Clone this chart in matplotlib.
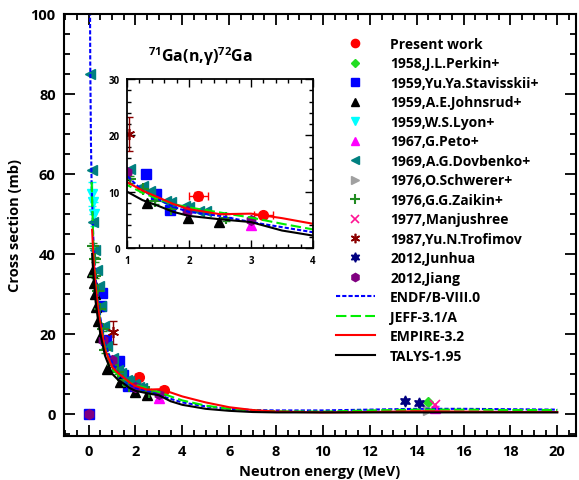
import matplotlib
matplotlib.use("Agg")
import matplotlib.pyplot as plt
import numpy as np
from matplotlib.ticker import MultipleLocator

plt.rcParams['font.family'] = ['Open Sans', 'DejaVu Sans']
plt.rcParams['font.weight'] = 'bold'
plt.rcParams['mathtext.fontset'] = 'custom'
plt.rcParams['mathtext.rm'] = 'Open Sans:bold'
plt.rcParams['mathtext.bf'] = 'Open Sans:bold'
plt.rcParams['mathtext.default'] = 'bf'

# ---------------- evaluated curves ----------------
endf_e = [0.055, 0.07, 0.1, 0.13, 0.2, 0.3, 0.4, 0.5, 0.7, 1.0, 1.25, 1.5, 1.75, 2.0, 2.5, 3.0, 3.5, 4.0, 5, 6, 7, 8, 10, 12, 14, 16, 18, 20]
endf_s = [110, 88, 68, 57, 44, 34, 28, 24, 17.5, 12.8, 10.2, 8.7, 7.3, 6.4, 5.7, 4.6, 3.7, 2.8, 1.8, 1.2, 0.9, 0.8, 0.8, 1.0, 1.2, 1.2, 1.1, 1.0]
jeff_e = [0.13, 0.2, 0.3, 0.4, 0.5, 0.7, 1.0, 1.25, 1.5, 1.75, 2.0, 2.5, 3.0, 3.5, 4.0, 5, 6, 7, 8, 10, 12, 14, 16, 18, 20]
jeff_s = [58, 43, 33, 27, 23, 16.5, 11.2, 9.8, 8.7, 7.8, 7.2, 6.3, 5.4, 4.3, 3.3, 2.0, 1.2, 0.8, 0.6, 0.5, 0.8, 1.0, 1.0, 0.9, 0.9]
empire_e = [0.15, 0.2, 0.3, 0.4, 0.5, 0.7, 1.0, 1.25, 1.5, 1.75, 2.0, 2.5, 3.0, 3.5, 4.0, 5, 6, 7, 8, 10, 12, 14, 16, 18, 20]
empire_s = [46, 40, 32, 26.5, 22.5, 16, 11.7, 10.2, 9.0, 7.8, 6.9, 6.0, 6.1, 5.3, 4.3, 2.8, 1.6, 0.9, 0.5, 0.3, 0.4, 0.6, 0.5, 0.4, 0.4]
talys_e = [0.15, 0.2, 0.3, 0.4, 0.5, 0.7, 1.0, 1.25, 1.5, 1.75, 2.0, 2.5, 3.0, 3.5, 4.0, 5, 6, 7, 8, 10, 12, 14, 16, 18, 20]
talys_s = [40, 35, 28, 23.5, 20, 14.5, 10, 8.5, 7.5, 6.4, 5.7, 5.1, 4.6, 3.1, 2.2, 1.2, 0.7, 0.4, 0.3, 0.3, 0.3, 0.3, 0.3, 0.3, 0.3]

# ---------------- experimental data ----------------
present_e = [2.15, 3.2]; present_s = [9.2, 5.8]; present_dx = [0.15, 0.15]; present_ds = [0.7, 0.5]
perkin_e = [14.5]; perkin_s = [2.8]
stav_e = [0.0, 0.55, 0.57, 0.75, 1.31, 1.47, 1.69]; stav_s = [0.0, 27, 30.3, 18.5, 13.1, 9.6, 6.8]
johns_e = [0.145, 0.22, 0.26, 0.32, 0.40, 0.50, 0.79, 1.32, 1.98, 2.49]
johns_s = [35.5, 32.8, 29.9, 26.6, 23.3, 19.1, 11.2, 8.0, 5.4, 4.6]
lyon_e = [0.13, 0.2, 0.25]; lyon_s = [55, 53, 50]; lyon_ds = [3, 3, 3]
peto_e = [3.0, 14.8]; peto_s = [4.0, 1.5]; peto_ds = [0.7, 0.3]
dov_e = [0.06, 0.13, 0.2, 0.27, 0.35, 0.45, 0.55, 0.65, 0.8, 1.05, 1.26, 1.37, 1.63, 1.71, 1.93, 2.0, 2.16, 2.27]
dov_s = [85, 61, 48, 41, 36, 32, 27, 22, 17, 14, 11, 10.2, 8.4, 8.1, 7.5, 7.2, 6.6, 6.5]
schw_e = [14.5]; schw_s = [1.0]; schw_ds = [0.4]
zaik_e = [0.2, 0.27, 0.27, 0.41, 0.49, 0.63, 0.7, 1.05, 1.26, 1.45, 1.71, 2.59]
zaik_s = [42, 38.6, 34.5, 30.7, 26.2, 21.2, 15.8, 12.2, 10.5, 8.4, 6.9, 5.4]
manj_e = [14.8]; manj_s = [2.2]
trof_e = [1.04]; trof_s = [20.3]; trof_ds = [3.0]
junh_e = [13.5, 14.1]; junh_s = [3.1, 2.6]
jiang_e = [0.0, 0.6, 1.0, 1.96, 3.0]; jiang_s = [0.0, 18.5, 13.5, 6.6, 5.0]

W, H = 579, 481
fig = plt.figure(figsize=(W/100, H/100), dpi=100)
ax = fig.add_axes([64/W, 1-437/H, (576-64)/W, (437-15)/H])
ins = fig.add_axes([127/W, 1-249/H, (313-127)/W, (249-80)/H])

def draw(a, ms_scale=1.0, label=True):
    L = (lambda s: s) if label else (lambda s: '_nolegend_')
    a.errorbar(present_e, present_s, xerr=present_dx, yerr=present_ds, fmt='none', ecolor='red', elinewidth=1, capsize=3)
    a.errorbar(lyon_e, lyon_s, yerr=lyon_ds, fmt='none', ecolor='cyan', elinewidth=1, capsize=3)
    a.errorbar(peto_e, peto_s, yerr=peto_ds, fmt='none', ecolor='magenta', elinewidth=1, capsize=3)
    a.errorbar(schw_e, schw_s, yerr=schw_ds, fmt='none', ecolor='#a0a0a0', elinewidth=1, capsize=3)
    a.errorbar(trof_e, trof_s, yerr=trof_ds, fmt='none', ecolor='#8b0000', elinewidth=1, capsize=3)
    a.errorbar(zaik_e, zaik_s, yerr=[0.6]*len(zaik_e), fmt='none', ecolor='#228b22', elinewidth=1, capsize=3)
    a.errorbar(jiang_e, jiang_s, yerr=[0.4]*len(jiang_e), fmt='none', ecolor='#800080', elinewidth=1, capsize=3)
    m = ms_scale
    a.plot(present_e, present_s, 'o', color='red', ms=7*m, label=L('Present work'))
    a.plot(perkin_e, perkin_s, 'D', color='#22dd22', ms=5*m, label=L('1958,J.L.Perkin+'))
    a.plot(stav_e, stav_s, 's', color='blue', ms=7*m, label=L('1959,Yu.Ya.Stavisskii+'))
    a.plot(johns_e, johns_s, '^', color='black', ms=7*m, label=L('1959,A.E.Johnsrud+'))
    a.plot(lyon_e, lyon_s, 'v', color='cyan', ms=7*m, label=L('1959,W.S.Lyon+'))
    a.plot(peto_e, peto_s, '^', color='magenta', ms=7*m, label=L('1967,G.Peto+'))
    a.plot(dov_e, dov_s, '<', color='teal', ms=7*m, label=L('1969,A.G.Dovbenko+'))
    a.plot(schw_e, schw_s, '>', color='#a0a0a0', ms=7*m, label=L('1976,O.Schwerer+'))
    a.plot(zaik_e, zaik_s, '+', color='#228b22', ms=8*m, mew=1.5, label=L('1976,G.G.Zaikin+'))
    a.plot(manj_e, manj_s, 'x', color='#ff1493', ms=7*m, mew=1.2, label=L('1977,Manjushree'))
    a.plot(trof_e, trof_s, marker=(6, 2, 0), ls='none', color='#8b0000', ms=8*m, mew=1.2, label=L('1987,Yu.N.Trofimov'))
    a.plot(junh_e, junh_s, marker=(6, 1, 0), ls='none', color='#000080', ms=8*m, label=L('2012,Junhua'))
    a.plot(jiang_e, jiang_s, 'h', color='#800080', ms=7*m, label=L('2012,Jiang'))
    a.plot(endf_e, endf_s, color='blue', ls=(0, (2, 1)), lw=1.5, label=L('ENDF/B-VIII.0'))
    a.plot(jeff_e, jeff_s, color='#00ee00', ls=(0, (5, 2)), lw=1.5, label=L('JEFF-3.1/A'))
    a.plot(empire_e, empire_s, color='red', lw=1.5, label=L('EMPIRE-3.2'))
    a.plot(talys_e, talys_s, color='black', lw=1.5, label=L('TALYS-1.95'))

draw(ax)
draw(ins, label=False)

ax.set_xlim(-1.05, 20.8)
ax.set_ylim(-5.6, 100)
ax.xaxis.set_major_locator(MultipleLocator(2))
ax.xaxis.set_minor_locator(MultipleLocator(0.5))
ax.yaxis.set_major_locator(MultipleLocator(20))
ax.yaxis.set_minor_locator(MultipleLocator(5))
ax.tick_params(which='both', direction='in', top=True, right=True, width=1.3)
ax.tick_params(which='major', length=8, labelsize=10.5, pad=6)
ax.tick_params(which='minor', length=4)
for s in ax.spines.values():
    s.set_linewidth(1.5)
for lab in ax.get_xticklabels() + ax.get_yticklabels():
    lab.set_fontweight('bold')
ax.set_xlabel('Neutron energy (MeV)', fontsize=10.5, fontweight='bold', labelpad=4)
ax.set_ylabel('Cross section (mb)', fontsize=10.5, fontweight='bold', labelpad=6)

ins.set_xlim(1, 4)
ins.set_ylim(0, 30)
ins.xaxis.set_major_locator(MultipleLocator(1))
ins.xaxis.set_minor_locator(MultipleLocator(0.2))
ins.yaxis.set_major_locator(MultipleLocator(10))
ins.yaxis.set_minor_locator(MultipleLocator(2))
ins.tick_params(which='both', direction='in', top=True, right=True, width=1.0)
ins.tick_params(which='major', length=6, labelsize=7, pad=5)
ins.tick_params(which='minor', length=3)
for s in ins.spines.values():
    s.set_linewidth(1.3)
for lab in ins.get_xticklabels() + ins.get_yticklabels():
    lab.set_fontweight('bold')

fig.text(200/W, 1-57/H, r'$^{71}$Ga(n,$\gamma$)$^{72}$Ga', fontsize=11.5, fontweight='bold', ha='center', va='center')

ax.legend(loc='upper left', bbox_to_anchor=(336/W, 1-38/H), bbox_transform=fig.transFigure,
          frameon=False, handlelength=2.8, handletextpad=1.1, labelspacing=0.395,
          borderpad=0, borderaxespad=0, prop={'weight': 'bold', 'size': 10}, numpoints=1,
          markerscale=0.85)

fig.savefig('out.png', dpi=100)
